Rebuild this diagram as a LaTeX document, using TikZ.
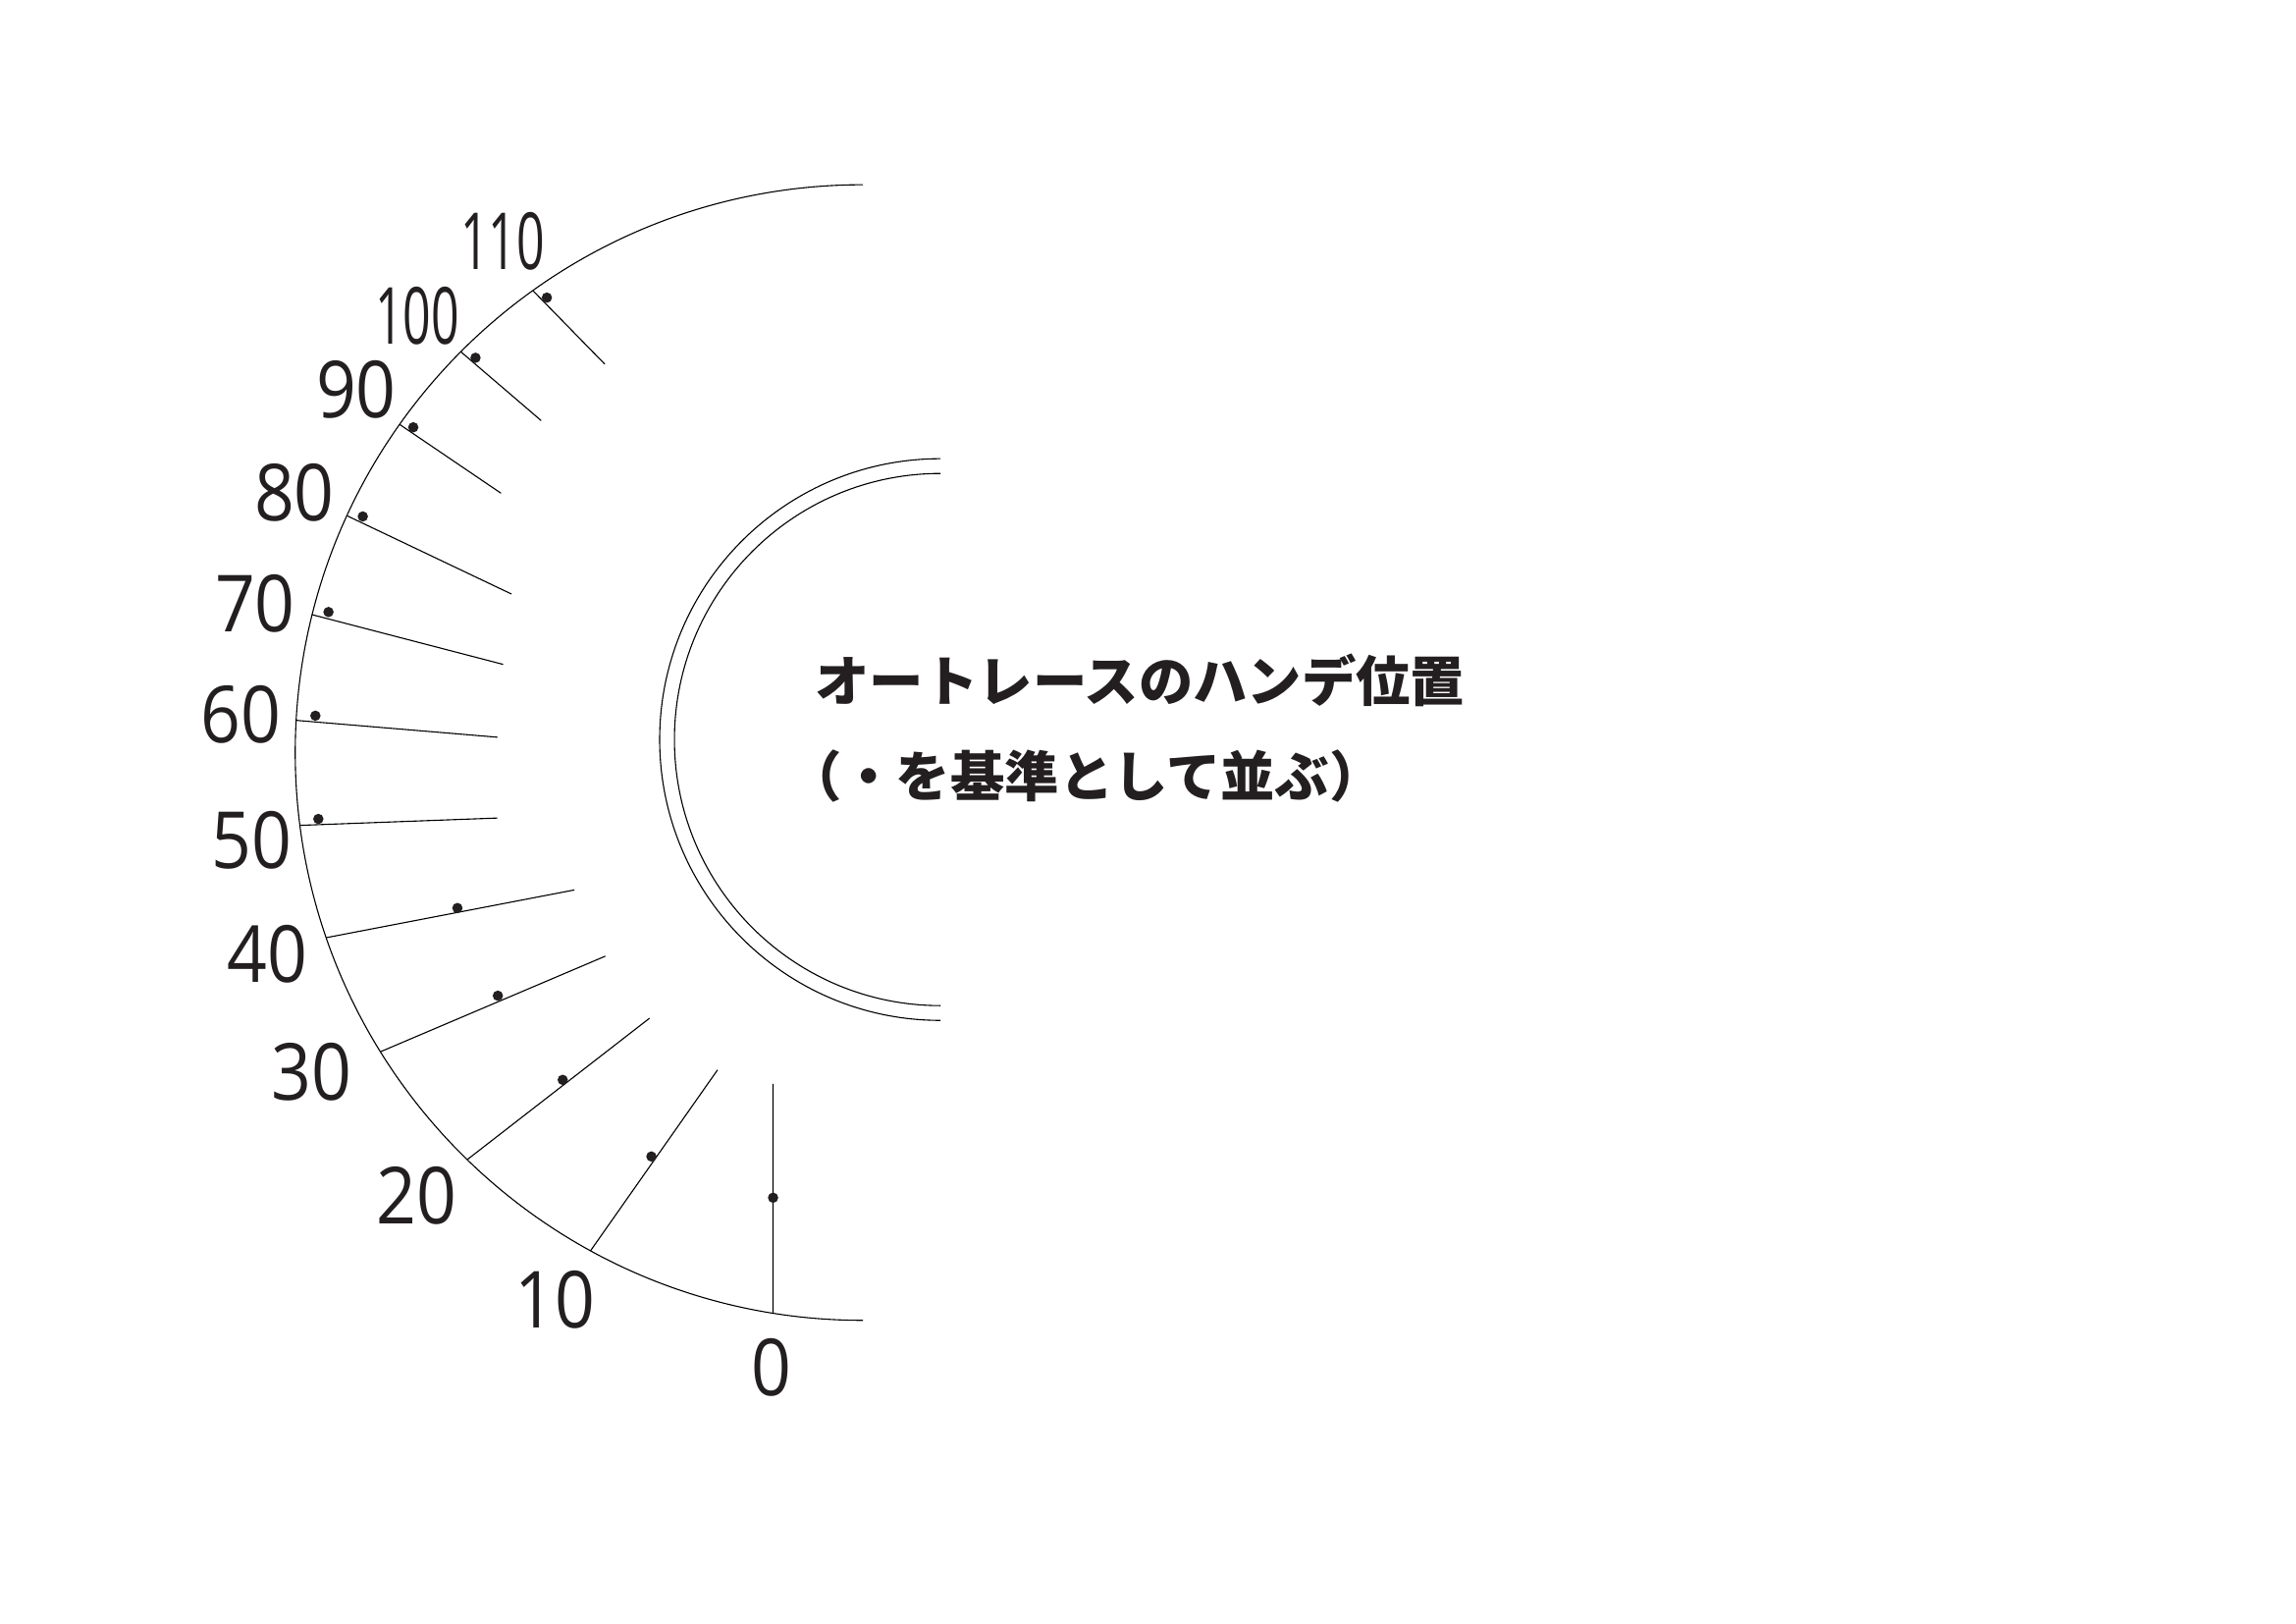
\documentclass[tikz,border=0pt]{standalone}
\usepackage{fontspec}
\usepackage{tikz}
\usetikzlibrary{positioning}
\newfontfamily\numfont{Open Sans}
\newfontfamily\jpfont{Noto Sans CJK JP}
\definecolor{ink}{RGB}{35,31,32}

\begin{document}
\begin{tikzpicture}[line width=0.4pt,
  handelabel/.style={inner sep=0pt, text=ink, font=\numfont\fontsize{29}{29}\selectfont, xscale=0.89},
  narrowlabel/.style={handelabel, xscale=0.7},
  notetext/.style={inner sep=0pt, anchor=west, text=ink, font=\jpfont\bfseries\fontsize{20}{20}\selectfont}]
\useasboundingbox (0,0) rectangle (29.7,21);
\coordinate (c) at (11.162,11.268);
\coordinate (d) at (12.165,11.436);
% outer scale and inner double arc
\draw (c) ++(90:7.343) arc[start angle=90, end angle=270, radius=7.343];
\draw (d) ++(90:3.632) arc[start angle=90, end angle=270, radius=3.632];
\draw (d) ++(90:3.441) arc[start angle=90, end angle=270, radius=3.441];
% ticks, dots and labels
\draw (c) ++(125.55:7.343) coordinate (a110) -- (7.822,16.292);
\fill[ink] (7.074,17.151) circle (0.067);
\node (n110) at (6.501,17.879) [narrowlabel] {110};
\draw (c) ++(135.1:7.343) coordinate (a100) -- (7.000,15.561);
\fill[ink] (6.151,16.373) circle (0.067);
\node (n100) at (5.397,16.914) [narrowlabel] {100};
\draw (c) ++(144.7:7.343) coordinate (a90) -- (6.480,14.622);
\fill[ink] (5.346,15.474) circle (0.067);
\node (n90) at (4.609,15.961) [handelabel] {90};
\draw (c) ++(155.35:7.343) coordinate (a80) -- (6.616,13.318);
\fill[ink] (4.693,14.321) circle (0.067);
\node (n80) at (3.809,14.634) [handelabel] {80};
\draw (c) ++(165.95:7.343) coordinate (a70) -- (6.508,12.408);
\fill[ink] (4.249,13.085) circle (0.067);
\node (n70) at (3.301,13.198) [handelabel] {70};
\draw (c) ++(176.75:7.343) coordinate (a60) -- (6.434,11.466);
\fill[ink] (4.080,11.744) circle (0.067);
\node (n60) at (3.111,11.758) [handelabel] {60};
\draw (c) ++(187.37:7.343) coordinate (a50) -- (6.434,10.421);
\fill[ink] (4.118,10.409) circle (0.067);
\node (n50) at (3.257,10.133) [handelabel] {50};
\draw (c) ++(199.03:7.343) coordinate (a40) -- (7.430,9.491);
\fill[ink] (5.917,9.257) circle (0.067);
\node (n40) at (3.454,8.664) [handelabel] {40};
\draw (c) ++(211.8:7.343) coordinate (a30) -- (7.831,8.635);
\fill[ink] (6.440,8.123) circle (0.067);
\node (n30) at (4.032,7.136) [handelabel] {30};
\draw (c) ++(225.81:7.343) coordinate (a20) -- (8.402,7.832);
\fill[ink] (7.279,7.035) circle (0.067);
\node (n20) at (5.390,5.536) [handelabel] {20};
\draw (c) ++(241.33:7.343) coordinate (a10) -- (9.282,7.164);
\fill[ink] (8.426,6.044) circle (0.067);
\node (n10) at (7.174,4.190) [handelabel] {10};
\draw (c) ++(260.89:7.343) coordinate (a0) -- (10.000,6.984);
\fill[ink] (10.000,5.511) circle (0.067);
\node (n0) at (9.981,3.314) [handelabel] {0};
% note
\node (note1) at (10.54,12.203) [notetext] {オートレースのハンデ位置};
\node (note2) at (10.18,10.958) [notetext] {（・を基準として並ぶ）};
\end{tikzpicture}
\end{document}
